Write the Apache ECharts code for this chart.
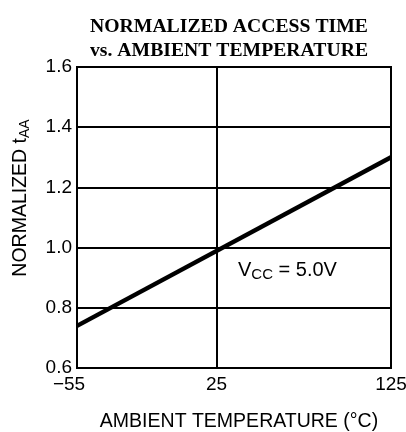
<!DOCTYPE html>
<html><head><meta charset="utf-8">
<script src="https://cdn.jsdelivr.net/npm/echarts@6/dist/echarts.min.js"></script>
<style>html,body{margin:0;padding:0;background:#fff}#c{width:406px;height:432px}</style>
</head><body><div id="c"></div>
<script>
const temps = [-55, 125];
const tAA = [0.74, 1.30];
const xTicks = [-55, 25, 125];
const yTicks = [0.6, 0.8, 1.0, 1.2, 1.4, 1.6];

const chart = echarts.init(document.getElementById('c'), null, {renderer: 'canvas'});
const sans = 'Liberation Sans, Arial, sans-serif';
chart.setOption({
  animation: false,
  backgroundColor: '#fff',
  title: {
    text: 'NORMALIZED ACCESS TIME\nvs. AMBIENT TEMPERATURE',
    left: 224, top: 10, textAlign: 'center',
    textStyle: {fontFamily: 'Liberation Serif, Times New Roman, serif', fontWeight: 'bold', fontSize: 19.7, lineHeight: 24, color: '#000'}
  },
  grid: {left: 77, right: 15, top: 67, bottom: 64, show: true, borderColor: '#000', borderWidth: 2,
         containLabel: false, outerBoundsMode: 'none'},
  xAxis: {
    type: 'value', min: xTicks[0], max: xTicks[xTicks.length - 1], interval: 180,
    axisLine: {show: true, onZero: false, lineStyle: {color: '#000', width: 2}},
    axisTick: {show: false},
    splitLine: {show: false},
    axisLabel: {
      customValues: xTicks, margin: 7, color: '#000', fontFamily: sans, fontSize: 19,
      formatter: v => (v < 0 ? '{n|\u2212' + Math.abs(v) + '}' : String(v)),
      rich: {n: {fontFamily: sans, fontSize: 19, color: '#000', padding: [0, 16, 0, 0]}}
    },
    name: 'AMBIENT TEMPERATURE (°C)', nameLocation: 'middle', nameGap: 44,
    nameTextStyle: {color: '#000', fontFamily: sans, fontSize: 19.5, padding: [0, 0, 0, 10]}
  },
  yAxis: {
    type: 'value', min: yTicks[0], max: yTicks[yTicks.length - 1], interval: 0.2,
    axisLine: {show: true, onZero: false, lineStyle: {color: '#000', width: 2}},
    axisTick: {show: false},
    splitLine: {show: true, lineStyle: {color: '#000', width: 2}},
    axisLabel: {margin: 5, color: '#000', fontFamily: sans, fontSize: 19, formatter: v => v.toFixed(1)}
  },
  graphic: [
    {
      type: 'text', x: 21, y: 198, rotation: Math.PI / 2,
      style: {
        text: '{m|NORMALIZED t}{s|AA}', align: 'center', verticalAlign: 'middle',
        rich: {
          m: {fontFamily: sans, fontSize: 19.5, fill: '#000', color: '#000'},
          s: {fontFamily: sans, fontSize: 14, fill: '#000', color: '#000', padding: [9, 0, 0, 0]}
        }
      }
    },
    {
      type: 'text', x: 238, y: 270,
      style: {
        text: '{m|V}{s|CC}{m| = 5.0V}', align: 'left', verticalAlign: 'middle',
        rich: {
          m: {fontFamily: sans, fontSize: 20, fill: '#000', color: '#000'},
          s: {fontFamily: sans, fontSize: 15, fill: '#000', color: '#000', padding: [9, 0, 0, 0]}
        }
      }
    }
  ],
  series: [{
    type: 'line',
    data: temps.map((t, i) => [t, tAA[i]]),
    symbol: 'none',
    lineStyle: {color: '#000', width: 4.5},
    markLine: {
      silent: true, symbol: 'none', label: {show: false},
      lineStyle: {color: '#000', width: 2, type: 'solid'},
      data: [{xAxis: xTicks[1]}]
    }
  }]
});
</script></body></html>
